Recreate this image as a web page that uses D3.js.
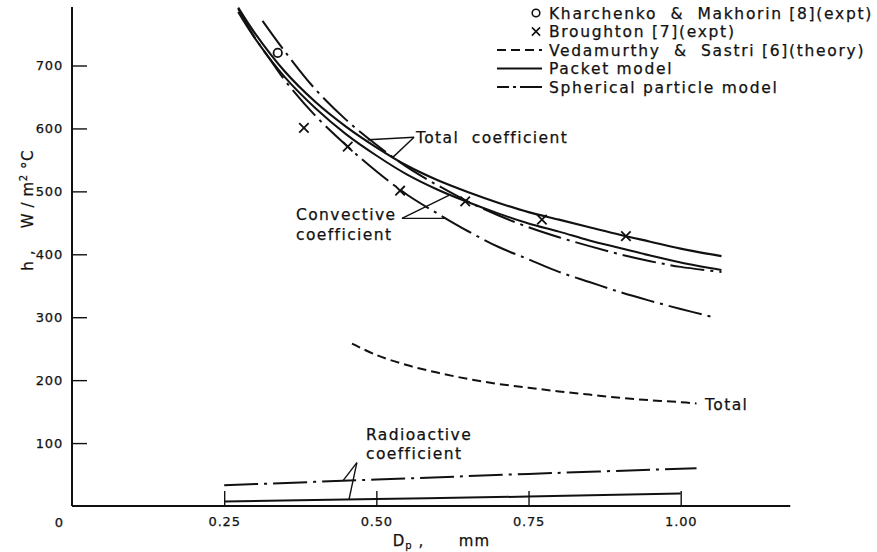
<!DOCTYPE html>
<html><head><meta charset="utf-8">
<script src="https://cdn.jsdelivr.net/npm/d3@7"></script>
<style>
html,body{margin:0;padding:0;background:#fff;}
svg{display:block;font-family:"DejaVu Sans",sans-serif;}
text{fill:#111;stroke:#111;stroke-width:0.25px;}
</style></head><body>
<svg id="chart" width="877" height="552"></svg>
<script>
// ---------------- data ----------------
// particle diameter Dp (mm) and heat transfer coefficient h (W/m2 °C)
const dpPacket      = [0.273, 0.30, 0.35, 0.40, 0.45, 0.50, 0.55, 0.60, 0.65, 0.70, 0.75, 0.80, 0.85, 0.90, 0.95, 1.00, 1.067];
const hPacketTotal  = [792,   752,  690,  642,  603,  570,  541,  518,  499,  482,  467,  455,  443,  431,  420,  409,  397];
const hPacketConv   = [785,   744,  681,  632,  591,  557,  527,  503,  483,  465,  449,  436,  422,  410,  398,  387,  375];

const dpSphTotal    = [0.313, 0.35, 0.40, 0.45, 0.50, 0.55, 0.60, 0.65, 0.70, 0.75, 0.80, 0.85, 0.90, 0.95, 1.00, 1.067];
const hSphTotal     = [771,   722,  662,  614,  574,  539,  510,  484,  462,  443,  427,  413,  400,  389,  380,  372];

const dpSphConv     = [0.273, 0.30, 0.325, 0.35, 0.40, 0.453, 0.50, 0.55, 0.60, 0.65, 0.70, 0.75, 0.80, 0.85, 0.90, 0.95, 1.00, 1.05];
const hSphConv      = [790,   745,  710,   676,  620,  571,   532,  495,  465,  437,  412,  392,  372,  356,  340,  326,  313,  301];

const dpVedamurthy  = [0.46, 0.50, 0.55, 0.60, 0.65, 0.70, 0.75, 0.80, 0.85, 0.90, 0.95, 1.00, 1.026];
const hVedamurthy   = [258,  240,  224,  212,  202,  194,  188,  182,  177,  172,  168,  165,  163];

const dpRadPacket   = [0.25, 0.50, 0.75, 1.00];
const hRadPacket    = [7,    11,   15,   20];
const dpRadSph      = [0.25, 0.50, 0.75, 1.026];
const hRadSph       = [33,   42,   51,   60];

const dpKharchenko  = [0.338];
const hKharchenko   = [720];
const dpBroughton   = [0.381, 0.453, 0.539, 0.646, 0.772, 0.910];
const hBroughton    = [601,   571,   501,   484,   455,   429];

const xTickValues   = [0.25, 0.50, 0.75, 1.00];
const xTickLabels   = ["0.25", "0.50", "0.75", "1.00"];
const yTickValues   = [100, 200, 300, 400, 500, 600, 700];
const yTickLabels   = ["100", "200", "300", "400", "500", "600", "700"];

const legendLabels  = ["Kharchenko  &  Makhorin [8](expt)", "Broughton [7](expt)",
                       "Vedamurthy  &  Sastri [6](theory)", "Packet model", "Spherical particle model"];

// ---------------- scales ----------------
const svg = d3.select("#chart");
const x = d3.scaleLinear().domain([0, 1.0]).range([72, 680.7]);
const y = d3.scaleLinear().domain([0, 700]).range([506, 65.5]);
const xMax = 1.18, yMax = 793;

const INK = "#111";
const dashVed = "9,5";
const dashSph = "34,6,3,6";

// ---------------- axes ----------------
const xAxis = d3.axisBottom(x).tickValues(xTickValues)
  .tickFormat((d, i) => xTickLabels[i]).tickSizeInner(-15).tickSizeOuter(0).tickPadding(11);
const gx = svg.append("g").attr("transform", `translate(0,${y(0)})`).call(xAxis);
gx.select(".domain").attr("d", `M${x(0)},0H${x(xMax)}`).attr("stroke", INK).attr("stroke-width", 2);

const yAxis = d3.axisLeft(y).tickValues(yTickValues)
  .tickFormat((d, i) => yTickLabels[i]).tickSizeInner(-15).tickSizeOuter(0).tickPadding(9);
const gy = svg.append("g").attr("transform", `translate(${x(0)},0)`).call(yAxis);
gy.select(".domain").attr("d", `M0,${y(0)}V${y(yMax)}`).attr("stroke", INK).attr("stroke-width", 2);

[gx, gy].forEach(g => {
  g.selectAll(".tick line").attr("stroke", INK).attr("stroke-width", 1.4);
  g.selectAll(".tick text").attr("font-size", 13).attr("letter-spacing", 0.8)
    .attr("font-family", "DejaVu Sans").attr("fill", INK);
});
// origin label
svg.append("text").attr("x", x(0) - 13).attr("y", y(0) + 21).attr("font-size", 13)
  .attr("text-anchor", "middle").text("0");

// axis titles
const xt = svg.append("text").attr("x", x(0.527)).attr("y", 546).attr("font-size", 15)
  .attr("letter-spacing", 1).attr("xml:space", "preserve");
xt.append("tspan").text("D");
xt.append("tspan").attr("font-size", 10).attr("dy", 3).text("p");
xt.append("tspan").attr("dy", -3).text(" ,      mm");

const yt = svg.append("text").attr("transform", `translate(33,${y(470)}) rotate(-90)`)
  .attr("font-size", 15).attr("letter-spacing", 0.6).attr("text-anchor", "middle").attr("xml:space", "preserve");
yt.append("tspan").text("h ,    W / m");
yt.append("tspan").attr("font-size", 10).attr("dy", -6).text("2");
yt.append("tspan").attr("dy", 6).text(" °C");

// ---------------- curves ----------------
const line = d3.line().x(d => x(d[0])).y(d => y(d[1])).curve(d3.curveCatmullRom.alpha(0.5));
function drawCurve(dps, hs, dash, w) {
  svg.append("path").datum(dps.map((d, i) => [d, hs[i]]))
    .attr("d", line).attr("fill", "none").attr("stroke", INK)
    .attr("stroke-width", w).attr("stroke-dasharray", dash || null)
    .attr("stroke-linecap", "butt");
}
drawCurve(dpPacket, hPacketTotal, null, 2.2);
drawCurve(dpPacket, hPacketConv, null, 2.0);
drawCurve(dpSphTotal, hSphTotal, dashSph, 2.0);
drawCurve(dpSphConv, hSphConv, dashSph, 2.0);
drawCurve(dpVedamurthy, hVedamurthy, dashVed, 2.0);
drawCurve(dpRadPacket, hRadPacket, null, 2.0);
drawCurve(dpRadSph, hRadSph, dashSph, 2.0);

// ---------------- experimental points ----------------
svg.selectAll(".kh").data(dpKharchenko).join("circle")
  .attr("cx", d => x(d)).attr("cy", (d, i) => y(hKharchenko[i])).attr("r", 4.2)
  .attr("fill", "#fff").attr("stroke", INK).attr("stroke-width", 1.8);
const cross = d3.symbol().type(d3.symbolX).size(60);
svg.selectAll(".br").data(dpBroughton).join("path")
  .attr("d", cross).attr("transform", (d, i) => `translate(${x(d)},${y(hBroughton[i])})`)
  .attr("fill", "none").attr("stroke", INK).attr("stroke-width", 1.8);

// ---------------- annotations (anchored in data units) ----------------
function label(dp, h, txt) {
  return svg.append("text").attr("x", x(dp)).attr("y", y(h)).attr("font-size", 15.5)
    .attr("letter-spacing", 1.4).attr("xml:space", "preserve").text(txt);
}
function pointer(dp0, h0, dp1, h1) {
  svg.append("line").attr("x1", x(dp0)).attr("y1", y(h0)).attr("x2", x(dp1)).attr("y2", y(h1))
    .attr("stroke", INK).attr("stroke-width", 1.4);
}
// Total coefficient
label(0.565, 577, "Total  coefficient");
pointer(0.562, 586, 0.486, 582);
pointer(0.562, 586, 0.527, 554);
// Convective coefficient
label(0.368, 454, "Convective");
label(0.368, 422, "coefficient");
pointer(0.542, 457, 0.62, 494);
pointer(0.542, 457, 0.614, 457);
// Total (Vedamurthy)
label(1.04, 153, "Total");
// Radioactive coefficient
label(0.483, 105, "Radioactive");
label(0.483, 75, "coefficient");
pointer(0.468, 69, 0.445, 40);
pointer(0.468, 69, 0.455, 10);

// ---------------- legend ----------------
const lgX = 497, lgTextX = 549, lgRows = [13, 31.5, 50, 68.5, 87];
const lg = svg.append("g");
lg.append("circle").attr("cx", 536).attr("cy", lgRows[0]).attr("r", 3.8)
  .attr("fill", "#fff").attr("stroke", INK).attr("stroke-width", 1.6);
lg.append("path").attr("d", d3.symbol().type(d3.symbolX).size(45))
  .attr("transform", `translate(536,${lgRows[1]})`).attr("stroke", INK).attr("stroke-width", 1.6);
[[dashVed, 2], [null, 3], ["12,4,3,4,22", 4]].forEach(([dash, r]) => {
  lg.append("line").attr("x1", lgX).attr("x2", 542).attr("y1", lgRows[r]).attr("y2", lgRows[r])
    .attr("stroke", INK).attr("stroke-width", 2).attr("stroke-dasharray", dash);
});
legendLabels.forEach((t, i) => {
  lg.append("text").attr("x", lgTextX).attr("y", lgRows[i]).attr("dy", "0.36em")
    .attr("font-size", 15.5).attr("letter-spacing", 1.7).attr("xml:space", "preserve").text(t);
});
</script>
</body></html>
